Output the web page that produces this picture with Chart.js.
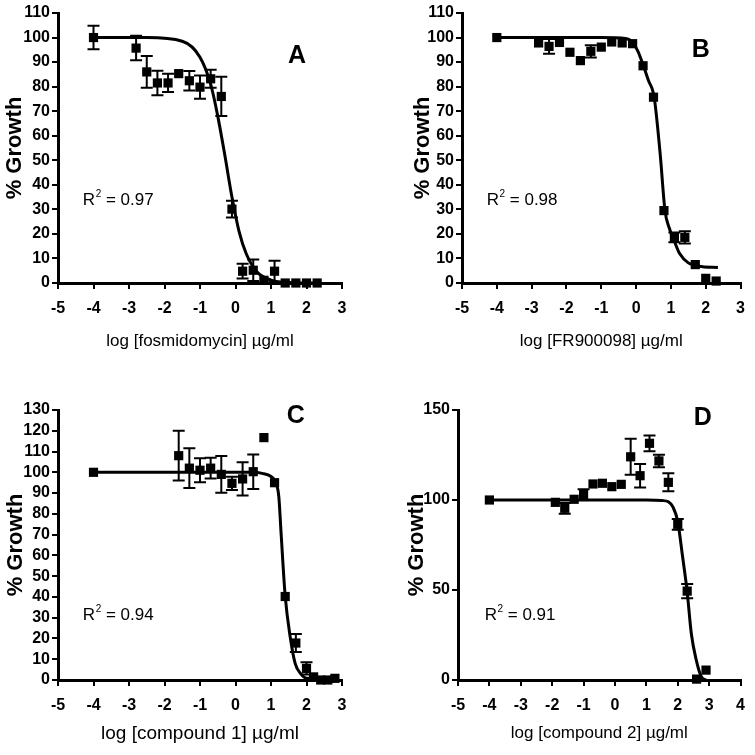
<!DOCTYPE html>
<html>
<head>
<meta charset="utf-8">
<script src="https://cdn.jsdelivr.net/npm/chart.js@4.4.1/dist/chart.umd.min.js"></script>
<style>
  body { margin: 0; background: #fff; }
  #wrap { position: relative; width: 755px; height: 755px; overflow: hidden; }
  .panel { position: absolute; }
</style>
</head>
<body>
<div id="wrap">
  <div class="panel" style="left:0;top:0;width:375px;height:375px"><canvas id="chartA"></canvas></div>
  <div class="panel" style="left:375px;top:0;width:380px;height:375px"><canvas id="chartB"></canvas></div>
  <div class="panel" style="left:0;top:375px;width:375px;height:380px"><canvas id="chartC"></canvas></div>
  <div class="panel" style="left:375px;top:375px;width:380px;height:380px"><canvas id="chartD"></canvas></div>
</div>
<script>
// panel A - fosmidomycin
const doseA = [-4, -2.8, -2.5, -2.2, -1.9, -1.6, -1.3, -1.0, -0.7, -0.4, -0.1, 0.2, 0.5, 0.8, 1.1, 1.4, 1.7, 2.0, 2.3];
const growthA = [100, 95.7, 86, 81.5, 81.5, 85.3, 82.4, 79.8, 83.2, 76, 30.1, 4.8, 5.2, 1.1, 4.8, 0, 0, 0, 0];
const errA = [4.8, 5, 6.5, 5, 3.7, 0, 4, 4.7, 3.7, 8, 3.4, 3, 4.4, 0, 4.3, 0, 0, 0, 0];
const fitDoseA = [-4, -2.5, -1.5, -1, -0.7, -0.5, -0.3, -0.1, 0.1, 0.3, 0.6, 1.0, 1.5, 2.3];
const fitGrowthA = [100, 100, 98.5, 92, 81, 68, 52, 35, 21, 12, 4.6, 1.2, 0.2, 0];

// panel B - FR900098
const doseB = [-4, -2.8, -2.5, -2.2, -1.9, -1.6, -1.3, -1.0, -0.7, -0.4, -0.1, 0.2, 0.5, 0.8, 1.1, 1.4, 1.7, 2.0, 2.3];
const growthB = [100, 97.8, 96.4, 98, 94, 90.6, 94.4, 96.1, 98.2, 97.8, 97.5, 88.5, 75.7, 29.5, 18.6, 18.6, 7.5, 1.9, 0.8];
const errB = [0, 0, 3, 0, 0, 0, 2.5, 0, 0, 0, 0, 0, 0, 0, 2, 2.5, 0, 0, 0];
const fitDoseB = [-4, -1, -0.3, -0.1, 0.05, 0.21, 0.35, 0.52, 0.69, 0.83, 0.95, 1.1, 1.25, 1.5, 1.8, 2.35];
const fitGrowthB = [100, 100, 99.6, 98, 94.5, 88.5, 82.7, 75.6, 52.8, 29.5, 22.5, 17, 12, 8.2, 6.8, 6.3];

// panel C - compound 1
const doseC = [-4, -1.6, -1.3, -1.0, -0.7, -0.4, -0.1, 0.2, 0.5, 0.8, 1.1, 1.4, 1.7, 2.0, 2.2, 2.4, 2.6, 2.8];
const growthC = [100, 108, 102, 101, 102, 99, 94.7, 96.8, 100.3, 116.7, 95, 40.2, 17.8, 5.6, 1.5, 0, 0, 0.8];
const errC = [0, 12, 9.6, 5.8, 5, 8.8, 3.2, 8, 8.3, 0, 0, 0, 4.3, 3, 0, 0, 0, 0];
const fitDoseC = [-4, 0.5, 0.75, 1.0, 1.12, 1.22, 1.29, 1.4, 1.54, 1.68, 1.83, 2.01, 2.8];
const fitGrowthC = [100, 100, 99.5, 98, 95.5, 88.3, 69, 40.4, 20.8, 8, 3.2, 0.8, 0.5];

// panel D - compound 2
const doseD = [-4, -1.9, -1.6, -1.3, -1.0, -0.7, -0.4, -0.1, 0.2, 0.5, 0.8, 1.1, 1.4, 1.7, 2.0, 2.3, 2.6, 2.9];
const growthD = [100, 98.7, 95.4, 100.4, 103, 108.9, 109.3, 107.4, 108.7, 124, 113.5, 131.5, 121.7, 109.8, 86.5, 49.4, 0.5, 5.5];
const errD = [0, 0, 3, 0, 3, 0, 0, 0, 0, 10, 6.5, 4.4, 3.5, 5, 3, 4, 0, 0];
const fitDoseD = [-4, 1.0, 1.5, 1.7, 1.85, 2.0, 2.15, 2.3, 2.43, 2.59, 2.75, 2.9];
const fitGrowthD = [100, 100, 99.7, 99, 96, 88, 69, 49, 26, 11, 1.8, 0];

const letters = ['A', 'B', 'C', 'D'];
const r2Values = ['0.97', '0.98', '0.94', '0.91'];
const xTitles = ['log [fosmidomycin] \u00b5g/ml', 'log [FR900098] \u00b5g/ml', 'log [compound 1] \u00b5g/ml', 'log [compound 2] \u00b5g/ml'];

const sans = '"Liberation Sans", Arial, sans-serif';
const narrow = '"Liberation Sans Narrow", "Liberation Sans", Arial, sans-serif';

function pts(xs, ys) {
    return xs.map((x, i) => ({ x: x, y: ys[i] }));
}

// drawn under the squares, so small bars hide behind them as in Prism
const errorBars = {
    id: 'errorBars',
    beforeDatasetsDraw(chart) {
        const ds = chart.data.datasets[0];
        const { ctx, scales: { x, y } } = chart;
        ctx.save();
        ctx.strokeStyle = '#000';
        ctx.lineWidth = 2;
        ds.data.forEach((p, i) => {
            const e = ds.errors[i];
            if (!e) return;
            const px = x.getPixelForValue(p.x);
            const top = y.getPixelForValue(p.y + e);
            const bot = y.getPixelForValue(Math.max(p.y - e, 0));
            ctx.beginPath();
            ctx.moveTo(px, top); ctx.lineTo(px, bot);
            ctx.moveTo(px - 6, top); ctx.lineTo(px + 6, top);
            ctx.moveTo(px - 6, bot); ctx.lineTo(px + 6, bot);
            ctx.stroke();
        });
        ctx.restore();
    }
};

const panelText = {
    id: 'panelText',
    afterDraw(chart, args, opts) {
        const { ctx, scales: { x, y } } = chart;
        ctx.save();
        ctx.fillStyle = '#000';
        ctx.textBaseline = 'middle';
        ctx.textAlign = 'center';
        ctx.font = 'bold 25px ' + sans;
        ctx.fillText(opts.letter, x.getPixelForValue(opts.letterAt[0]), y.getPixelForValue(opts.letterAt[1]));
        ctx.textAlign = 'left';
        let px = x.getPixelForValue(opts.r2At[0]);
        const py = y.getPixelForValue(opts.r2At[1]);
        ctx.font = '17px ' + sans;
        ctx.fillText('R', px, py);
        px += ctx.measureText('R').width + 0.5;
        ctx.font = '10px ' + sans;
        ctx.fillText('2', px, py - 6);
        px += ctx.measureText('2').width;
        ctx.font = '17px ' + sans;
        ctx.fillText(' = ' + opts.r2, px, py);
        ctx.restore();
    }
};

function makeChart(id, p) {
    return new Chart(document.getElementById(id), {
        type: 'scatter',
        data: {
            datasets: [{
                data: pts(p.dose, p.growth),
                errors: p.err,
                pointStyle: 'rect',
                pointRadius: 6.5,
                pointHoverRadius: 6.5,
                backgroundColor: '#000',
                borderWidth: 0,
                clip: false
            }, {
                data: pts(p.fitX, p.fitY),
                showLine: true,
                borderColor: '#000',
                borderWidth: 3,
                pointRadius: 0,
                cubicInterpolationMode: 'monotone',
                clip: false
            }]
        },
        options: {
            responsive: true,
            maintainAspectRatio: false,
            animation: false,
            events: [],
            layout: { padding: p.pad },
            plugins: {
                legend: { display: false },
                tooltip: { enabled: false },
                panelText: { letter: p.letter, letterAt: p.letterAt, r2: p.r2, r2At: p.r2At }
            },
            scales: {
                x: {
                    type: 'linear',
                    min: p.xMin,
                    max: p.xMax,
                    afterFit: s => { s.height = p.xH; },
                    ticks: { stepSize: 1, autoSkip: false, maxRotation: 0, color: '#000', padding: 10,
                             font: { family: narrow, size: 16, weight: 'bold' } },
                    grid: { drawOnChartArea: false, tickLength: 6, color: '#000', lineWidth: 2 },
                    border: { color: '#000', width: 3 },
                    title: { display: true, text: p.xTitle, color: '#000', padding: 0,
                             font: { family: sans, size: p.xTitleSize } }
                },
                y: {
                    min: 0,
                    max: p.yMax,
                    afterFit: s => { s.width = p.yW; },
                    ticks: { stepSize: p.yStep, autoSkip: false, color: '#000', padding: 2,
                             font: { family: narrow, size: 16, weight: 'bold' } },
                    grid: { drawOnChartArea: false, tickLength: 6, color: '#000', lineWidth: 2 },
                    border: { color: '#000', width: 3 },
                    title: { display: true, text: '% Growth', color: '#000', padding: 0,
                             font: { family: sans, size: 22, weight: 'bold' } }
                }
            }
        },
        plugins: [errorBars, panelText]
    });
}

makeChart('chartA', {
    dose: doseA, growth: growthA, err: errA, fitX: fitDoseA, fitY: fitGrowthA,
    xMin: -5, xMax: 3, yMax: 110, yStep: 10, xTitle: xTitles[0], xTitleSize: 17,
    pad: { left: 2, right: 33, top: 13, bottom: 23 }, yW: 56, xH: 69,
    letter: letters[0], letterAt: [1.73, 92.5], r2: r2Values[0], r2At: [-4.3, 33.8]
});
makeChart('chartB', {
    dose: doseB, growth: growthB, err: errB, fitX: fitDoseB, fitY: fitGrowthB,
    xMin: -5, xMax: 3, yMax: 110, yStep: 10, xTitle: xTitles[1], xTitleSize: 17,
    pad: { left: 35, right: 12, top: 13, bottom: 23 }, yW: 52, xH: 69,
    letter: letters[1], letterAt: [1.86, 94.9], r2: r2Values[1], r2At: [-4.29, 33.8]
});
makeChart('chartC', {
    dose: doseC, growth: growthC, err: errC, fitX: fitDoseC, fitY: fitGrowthC,
    xMin: -5, xMax: 3, yMax: 130, yStep: 10, xTitle: xTitles[2], xTitleSize: 19,
    pad: { left: 3, right: 33, top: 35, bottom: 10 }, yW: 55, xH: 65,
    letter: letters[2], letterAt: [1.7, 127], r2: r2Values[2], r2At: [-4.3, 31.3]
});
makeChart('chartD', {
    dose: doseD, growth: growthD, err: errD, fitX: fitDoseD, fitY: fitGrowthD,
    xMin: -5, xMax: 4, yMax: 150, yStep: 50, xTitle: xTitles[3], xTitleSize: 17,
    pad: { left: 29, right: 12, top: 35, bottom: 11 }, yW: 54, xH: 64,
    letter: letters[3], letterAt: [2.8, 145.6], r2: r2Values[3], r2At: [-4.15, 36.1]
});
</script>
</body>
</html>
